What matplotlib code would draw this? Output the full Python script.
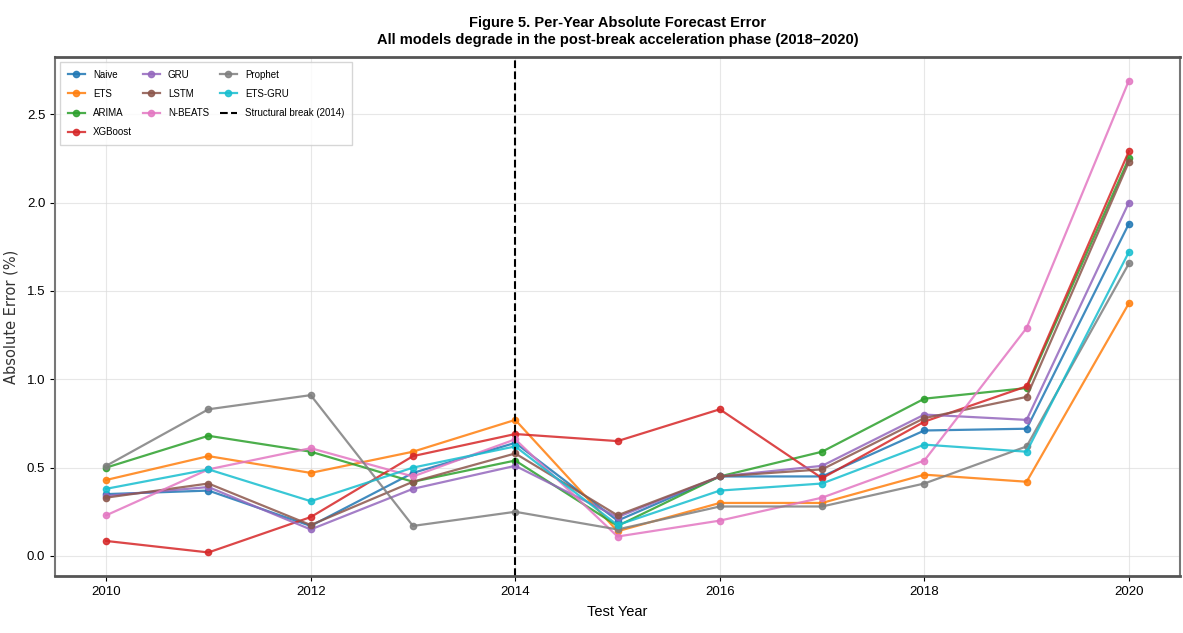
#!/usr/bin/env python3

import matplotlib
matplotlib.use("Agg")
import matplotlib.pyplot as plt


# =========================
# Data
# =========================
YEARS = [2010, 2011, 2012, 2013, 2014, 2015, 2016, 2017, 2018, 2019, 2020]

MODEL_NAMES = ["Naive", "ETS", "ARIMA", "XGBoost", "GRU", "LSTM", "N-BEATS", "Prophet", "ETS-GRU"]

NAIVE = [0.35, 0.37, 0.17, 0.47, 0.64, 0.20, 0.45, 0.45, 0.71, 0.72, 1.88]
ETS = [0.43, 0.565, 0.47, 0.59, 0.77, 0.14, 0.30, 0.30, 0.46, 0.42, 1.43]
ARIMA = [0.50, 0.68, 0.59, 0.42, 0.54, 0.17, 0.45, 0.59, 0.89, 0.95, 2.25]
XGBOOST = [0.085, 0.02, 0.22, 0.565, 0.69, 0.65, 0.83, 0.44, 0.76, 0.96, 2.29]
GRU = [0.34, 0.39, 0.15, 0.38, 0.51, 0.22, 0.45, 0.51, 0.80, 0.77, 2.00]
LSTM = [0.33, 0.41, 0.175, 0.42, 0.58, 0.23, 0.45, 0.49, 0.78, 0.90, 2.23]
NBEATS = [0.23, 0.49, 0.61, 0.45, 0.66, 0.11, 0.20, 0.33, 0.54, 1.29, 2.69]
PROPHET = [0.51, 0.83, 0.91, 0.17, 0.25, 0.15, 0.28, 0.28, 0.41, 0.62, 1.655]
ETS_GRU = [0.38, 0.49, 0.31, 0.50, 0.62, 0.175, 0.37, 0.41, 0.63, 0.59, 1.72]

SERIES = [NAIVE, ETS, ARIMA, XGBOOST, GRU, LSTM, NBEATS, PROPHET, ETS_GRU]
COLORS = ["#1f77b4", "#ff7f0e", "#2ca02c", "#d62728", "#9467bd",
          "#8c564b", "#e377c2", "#7f7f7f", "#17becf"]

BREAK_YEAR = 2014
X_TICKS = [2010, 2012, 2014, 2016, 2018, 2020]

TITLE = ("Figure 5. Per-Year Absolute Forecast Error\n"
         "All models degrade in the post-break acceleration phase (2018\u20132020)")

NARROW = ["Liberation Sans", "DejaVu Sans"]


def main():
    fig = plt.figure(figsize=(11.83, 6.33), dpi=100)
    ax = fig.add_axes([0.0465, 0.090, 0.951, 0.820])

    for name, values, color in zip(MODEL_NAMES, SERIES, COLORS):
        ax.plot(YEARS, values, marker="o", markersize=4.5, linewidth=1.6,
                color=color, alpha=0.85, label=name)

    ax.axvline(BREAK_YEAR, color="black", linestyle="--", linewidth=1.5,
               label=f"Structural break ({BREAK_YEAR})")

    ax.set_xticks(X_TICKS)
    for lbl in ax.get_xticklabels() + ax.get_yticklabels():
        lbl.set_family(NARROW)
        lbl.set_fontsize(9.5)

    ax.set_xlabel("Test Year", family=NARROW, fontsize=10.5, labelpad=5)
    ax.set_ylabel("Absolute Error (%)", fontsize=10.5, labelpad=6, color="#333333")
    ax.set_title(TITLE, family=NARROW, fontsize=10.5, fontweight="bold", pad=9,
                 linespacing=1.35)

    ax.grid(True, color="#dddddd", linewidth=0.8, alpha=0.7)
    for side in ["top", "bottom"]:
        ax.spines[side].set_linewidth(2.0)
        ax.spines[side].set_color("#555555")
    for side in ["left", "right"]:
        ax.spines[side].set_linewidth(1.5)
        ax.spines[side].set_color("#777777")

    ax.legend(loc="upper left", ncol=3, prop={"family": NARROW, "size": 7},
              frameon=True, fancybox=False, edgecolor="#cccccc",
              handlelength=1.8, columnspacing=1.1, labelspacing=0.95,
              borderpad=0.8)

    fig.savefig("out.png", dpi=100)
    plt.close(fig)


if __name__ == "__main__":
    main()
